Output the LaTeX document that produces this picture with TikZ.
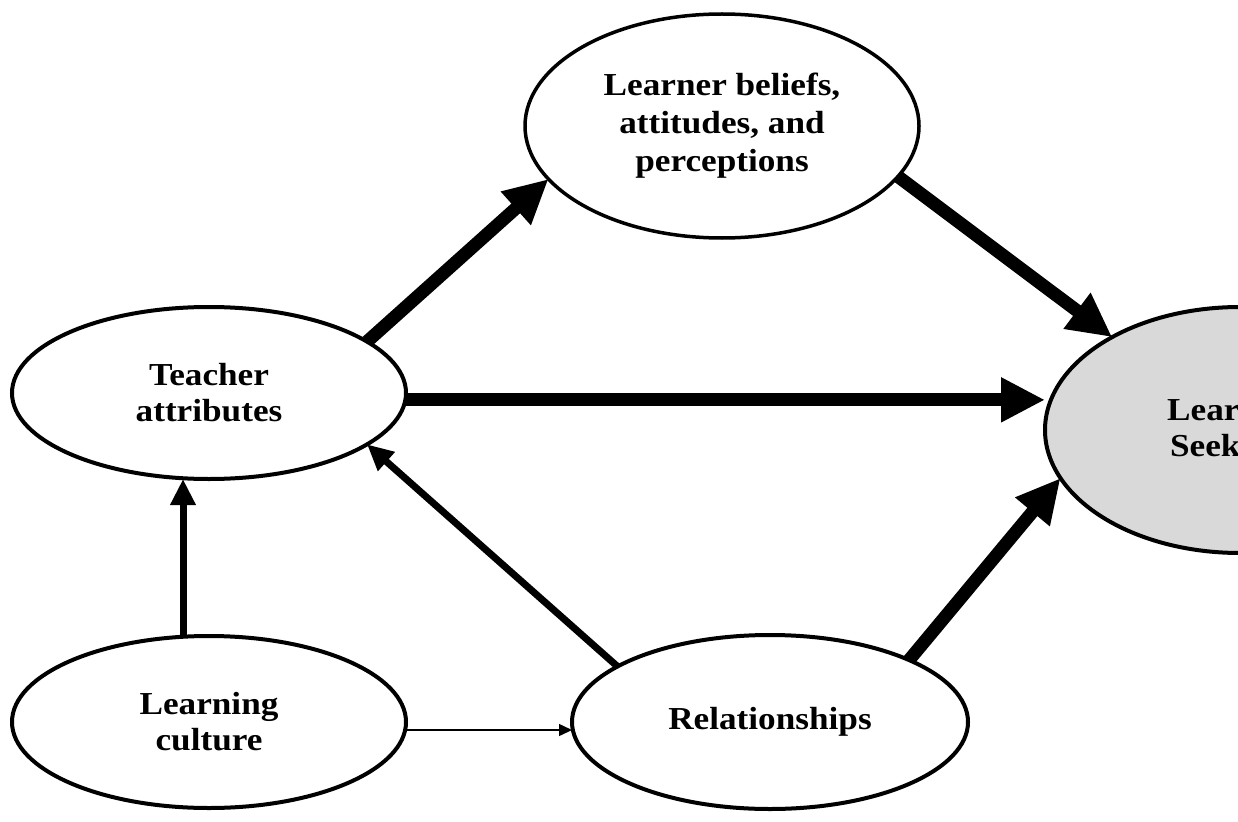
\documentclass[tikz,border=0pt]{standalone}
\usepackage{fontspec}
\setmainfont{Liberation Serif}[FakeStretch=1.1]
\usetikzlibrary{shapes.geometric,arrows.meta,calc}
\begin{document}
\begin{tikzpicture}[x=1pt,y=-1pt,
  oval/.style={ellipse, draw, line width=4pt, inner sep=0pt, outer sep=0pt,
    align=center, font=\fontsize{32}{36}\selectfont\bfseries},
  lbl/.style={inner sep=0pt, align=center, font=\fontsize{32}{36}\selectfont\bfseries},
  bigarr/.style={line width=13pt, -{Triangle[length=44pt,width=42pt]}},
  midarr/.style={line width=7pt, -{Triangle[length=26pt,width=24pt]}},
  thinarr/.style={line width=1.5pt, -{Triangle[length=13pt,width=12pt]}}
]
\useasboundingbox (0,0) rectangle (1238,821);
\begin{scope}
\clip (0,0) rectangle (1238,821);
\node[oval, fill={rgb,255:red,217;green,217;blue,217}, minimum width=390pt, minimum height=246pt] (lhs) at (1240,430) {};
\node[lbl, anchor=west] (lhst) at (1167,432) {Learner\\Seeking};
\end{scope}
\node[oval, line width=3.5pt, minimum width=394pt, minimum height=224pt,
  font=\fontsize{32}{38}\selectfont\bfseries] (bel) at (722,126) {Learner beliefs,\\attitudes, and\\perceptions};
\node[oval, minimum width=394pt, minimum height=172pt] (tea) at (209,393) {Teacher\\attributes};
\node[oval, minimum width=394pt, minimum height=172pt] (lc) at (209,722) {Learning\\culture};
\node[oval, minimum width=396pt, minimum height=174pt] (rel) at (770,722) {Relationships};

\draw[bigarr] (tea.18) -- (bel.197);
\draw[bigarr] (bel.344.5) -- (lhs.144);
\draw[bigarr] (tea.-2) -- (tea.-2 -| lhs.west);
\draw[bigarr] (rel.24) -- (lhs.195);
\draw[midarr] (rel.160) -- (tea.342);
\draw[midarr] ([xshift=-26pt]lc.north) -- ([xshift=-26pt]tea.south);
\draw[thinarr] ([yshift=-8pt]lc.east) -- ([yshift=-8pt]rel.west);
\end{tikzpicture}
\end{document}
